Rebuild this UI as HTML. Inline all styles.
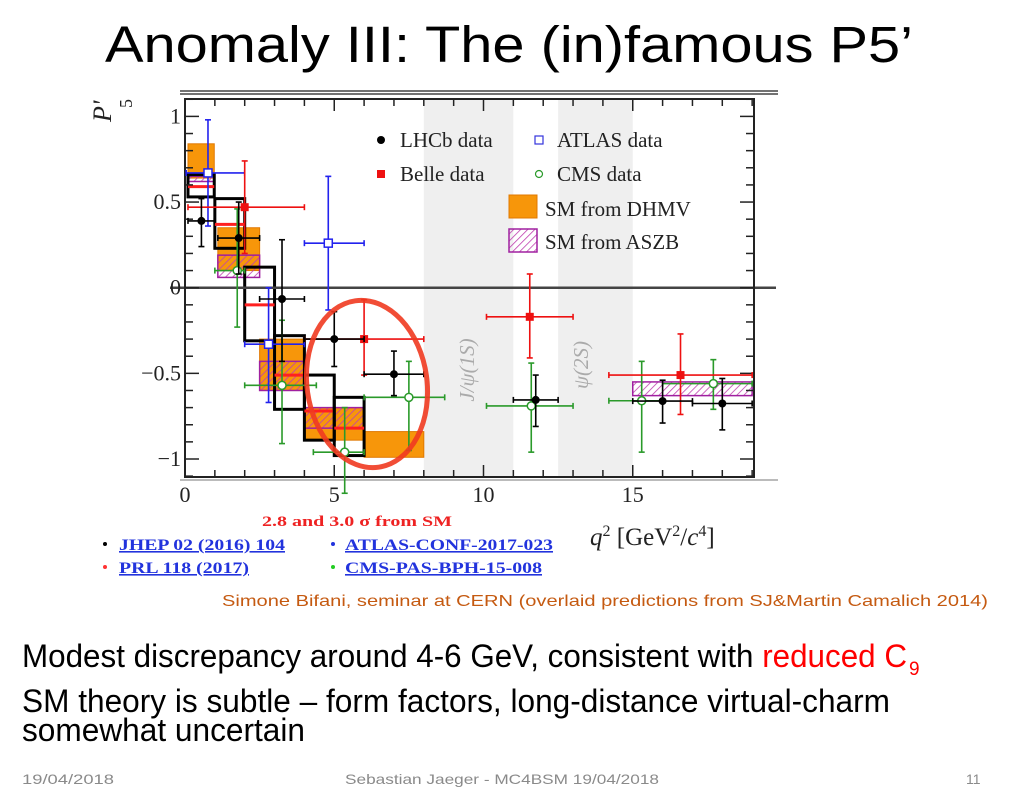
<!DOCTYPE html>
<html><head><meta charset="utf-8"><style>
html,body{margin:0;padding:0;background:#fff;}
svg{display:block}
</style></head><body>
<svg id="page" width="1032" height="810" viewBox="0 0 1032 810" xmlns="http://www.w3.org/2000/svg">
<defs>
<pattern id="hatch" patternUnits="userSpaceOnUse" width="5" height="5" patternTransform="rotate(45)">
<rect width="5" height="5" fill="rgba(255,255,255,0)"/>
<line x1="0" y1="0" x2="0" y2="5" stroke="#c040b0" stroke-width="1.6"/>
</pattern>
</defs>
<text x="105" y="62" font-family="Liberation Sans, sans-serif" font-size="51" textLength="808" lengthAdjust="spacingAndGlyphs">Anomaly III: The (in)famous P5’</text>
<g id="chart"></g>
<text x="262" y="526" font-family="Liberation Serif, serif" font-weight="bold" font-size="15" fill="#ee2222" textLength="190" lengthAdjust="spacingAndGlyphs">2.8 and 3.0 σ from SM</text>
<g font-family="Liberation Serif, serif" font-weight="bold" font-size="16" fill="#2233dd" text-decoration="underline">
<circle cx="105" cy="544" r="2" fill="#000"/><text x="119" y="550" textLength="166" lengthAdjust="spacingAndGlyphs">JHEP 02 (2016) 104</text>
<circle cx="105" cy="567" r="2" fill="#f33"/><text x="119" y="573" textLength="130" lengthAdjust="spacingAndGlyphs">PRL 118 (2017)</text>
<circle cx="333" cy="544" r="2" fill="#2233dd"/><text x="345" y="550" textLength="208" lengthAdjust="spacingAndGlyphs">ATLAS-CONF-2017-023</text>
<circle cx="333" cy="567" r="2" fill="#2c2"/><text x="345" y="573" textLength="197" lengthAdjust="spacingAndGlyphs">CMS-PAS-BPH-15-008</text>
</g>
<text x="222" y="606" font-family="Liberation Sans, sans-serif" font-size="16" fill="#c55a11" textLength="766" lengthAdjust="spacingAndGlyphs">Simone Bifani, seminar at CERN (overlaid predictions from SJ&amp;Martin Camalich 2014)</text>
<text x="22" y="667" font-family="Liberation Sans, sans-serif" font-size="32" textLength="885" lengthAdjust="spacingAndGlyphs">Modest discrepancy around 4-6 GeV, consistent with <tspan fill="#ff0000">reduced C</tspan></text>
<text x="909" y="675" font-family="Liberation Sans, sans-serif" font-size="19" fill="#ff0000">9</text>
<text x="22" y="712" font-family="Liberation Sans, sans-serif" font-size="32" textLength="868" lengthAdjust="spacingAndGlyphs">SM theory is subtle – form factors, long-distance virtual-charm</text>
<text x="22" y="741" font-family="Liberation Sans, sans-serif" font-size="32" textLength="283" lengthAdjust="spacingAndGlyphs">somewhat uncertain</text>
<g font-family="Liberation Sans, sans-serif" font-size="14" fill="#8a8a8a">
<text x="22" y="784" textLength="92" lengthAdjust="spacingAndGlyphs">19/04/2018</text>
<text x="345" y="784" textLength="314" lengthAdjust="spacingAndGlyphs">Sebastian Jaeger - MC4BSM 19/04/2018</text>
<text x="966" y="784">11</text>
</g>
</svg>
<script>
// ---- data ----
const lhcbX=[0.55,1.8,3.25,5,7,11.75,16,18];
const lhcbXlo=[0.1,1.1,2.5,4,6,11,15,17];
const lhcbXhi=[0.98,2.5,4,6,8,12.5,17,19];
const lhcbY=[0.39,0.29,-0.066,-0.30,-0.505,-0.655,-0.662,-0.676];
const lhcbYlo=[0.24,0.08,-0.43,-0.46,-0.63,-0.81,-0.79,-0.83];
const lhcbYhi=[0.52,0.50,0.28,-0.14,-0.37,-0.51,-0.54,-0.53];
const belleX=[2,6,11.55,16.6];
const belleXlo=[0.1,4,10.1,14.2];
const belleXhi=[4,8,13,19];
const belleY=[0.47,-0.30,-0.17,-0.51];
const belleYlo=[0.2,-0.51,-0.41,-0.74];
const belleYhi=[0.74,-0.07,0.08,-0.27];
const atlasX=[0.77,4.8,2.8];
const atlasXlo=[0.04,4,2];
const atlasXhi=[2,6,4];
const atlasY=[0.67,0.26,-0.33];
const atlasYlo=[0.36,-0.13,-0.67];
const atlasYhi=[0.98,0.65,0.0];
const cmsX=[1.75,3.25,5.35,7.5,11.6,15.3,17.7];
const cmsXlo=[1,2,4.3,6,10.1,14.2,16];
const cmsXhi=[2,4.4,6,8.7,13,16,19];
const cmsY=[0.1,-0.57,-0.96,-0.64,-0.69,-0.66,-0.56];
const cmsYlo=[-0.23,-0.91,-1.2,-0.95,-0.96,-0.96,-0.71];
const cmsYhi=[0.46,-0.19,-0.7,-0.43,-0.44,-0.43,-0.42];
const dhmvLo=[0.1,1.1,2.5,4,6];
const dhmvHi=[0.98,2.5,4,6,8];
const dhmvBot=[0.64,0.10,-0.60,-0.89,-0.99];
const dhmvTop=[0.84,0.35,-0.30,-0.70,-0.84];
const aszbLo=[0.1,1.1,2.5,4,15];
const aszbHi=[0.98,2.5,4,6,19];
const aszbBot=[0.62,0.06,-0.60,-0.82,-0.63];
const aszbTop=[0.65,0.19,-0.43,-0.70,-0.55];
const sjLo=[0.1,1,2,3,4,5];
const sjHi=[0.98,2,3,4,5,6];
const sjBot=[0.53,0.23,-0.31,-0.71,-0.89,-0.98];
const sjTop=[0.66,0.52,0.12,-0.28,-0.51,-0.64];
const sjCentral=[0.59,0.37,-0.10,-0.51,-0.72,-0.82];
const xTicks=[0,5,10,15];
const yTicks=[1,0.5,0,-0.5,-1];
const yTickLabels=['1','0.5','0','\u22120.5','\u22121'];
const bandsLo=[8,12.5];
const bandsHi=[11,15];

// ---- axes ----
const X=v=>185+29.85*v;
const Y=v=>287.7-171.3*v;
const NS='http://www.w3.org/2000/svg';
const g=document.getElementById('chart');
function mk(tag,attrs,parent){const e=document.createElementNS(NS,tag);for(const k in attrs)e.setAttribute(k,attrs[k]);(parent||g).appendChild(e);return e;}

for(let i=0;i<bandsLo.length;i++){
 const r=mk('rect',{x:X(bandsLo[i]),y:99,width:X(bandsHi[i])-X(bandsLo[i]),height:378,fill:'#efefef'});
 
 
}
for(let i=0;i<dhmvLo.length;i++){
 const r=mk('rect',{x:X(dhmvLo[i]),y:Y(dhmvTop[i]),width:X(dhmvHi[i])-X(dhmvLo[i]),height:Y(dhmvBot[i])-Y(dhmvTop[i]),fill:'#f7960a',stroke:'#e07800','stroke-width':1});
 
 
}
for(let i=0;i<aszbLo.length;i++){
 const r=mk('rect',{x:X(aszbLo[i]),y:Y(aszbTop[i]),width:X(aszbHi[i])-X(aszbLo[i]),height:Y(aszbBot[i])-Y(aszbTop[i]),fill:'url(#hatch)',stroke:'#a020a0','stroke-width':1.5});
 
 
}
for(let i=0;i<sjLo.length;i++){
 const r=mk('rect',{x:X(sjLo[i]),y:Y(sjTop[i]),width:X(sjHi[i])-X(sjLo[i]),height:Y(sjBot[i])-Y(sjTop[i]),fill:'none',stroke:'#000','stroke-width':3});
 
 
 const l=mk('line',{x1:X(sjLo[i]),x2:X(sjHi[i]),y1:Y(sjCentral[i]),y2:Y(sjCentral[i]),stroke:'#ff2020','stroke-width':3});
 
 
}
mk('line',{x1:170,x2:776,y1:Y(0),y2:Y(0),stroke:'#444','stroke-width':2.5});
mk('line',{x1:180,x2:778,y1:91,y2:91,stroke:'#444','stroke-width':1.5});
mk('line',{x1:180,x2:778,y1:94,y2:94,stroke:'#444','stroke-width':1.5});
mk('line',{x1:180,x2:778,y1:480,y2:480,stroke:'#bbb','stroke-width':2});
mk('rect',{x:185,y:99,width:569,height:378,fill:'none',stroke:'#222','stroke-width':2});
for(let v=0;v<=19;v++){
 const big=v%5===0, L=big?12:7;
 mk('line',{x1:X(v),x2:X(v),y1:477,y2:477-L,stroke:'#222','stroke-width':1.5});
 mk('line',{x1:X(v),x2:X(v),y1:99,y2:99+L,stroke:'#222','stroke-width':1.5});
}
for(let k=-11;k<=11;k++){
 const v=k/10, big=k%5===0, L=big?14:8;
 mk('line',{x1:185,x2:185+L,y1:Y(v),y2:Y(v),stroke:'#222','stroke-width':1.5});
 mk('line',{x1:754,x2:754-L,y1:Y(v),y2:Y(v),stroke:'#222','stroke-width':1.5});
}
xTicks.forEach(v=>{const t=mk('text',{x:X(v),y:502,'text-anchor':'middle','font-family':'Liberation Serif, serif','font-size':22,fill:'#222'});t.textContent=v;
 
 });
yTicks.forEach((v,i)=>{const t=mk('text',{x:181,y:Y(v)+7,'text-anchor':'end','font-family':'Liberation Serif, serif','font-size':22,fill:'#222'});t.textContent=yTickLabels[i];
 
 });
[['J/\u03c8(1S)',474,370],['\u03c8(2S)',588,365]].forEach(a=>{const t=mk('text',{x:a[1],y:a[2],transform:`rotate(-90 ${a[1]} ${a[2]})`,'text-anchor':'middle','font-family':'Liberation Serif, serif','font-size':21,fill:'#aaa','font-style':'italic'});t.textContent=a[0];
 
 });
function series(xs,xl,xh,ys,yl,yh,color,name,marker){
 for(let i=0;i<xs.length;i++){
  const grp=mk('g',{});
  
  
  const cx=X(xs[i]),cy=Y(ys[i]);
  mk('line',{x1:X(xl[i]),x2:X(xh[i]),y1:cy,y2:cy,stroke:color,'stroke-width':1.6},grp);
  mk('line',{x1:cx,x2:cx,y1:Y(yl[i]),y2:Y(yh[i]),stroke:color,'stroke-width':1.6},grp);
  [X(xl[i]),X(xh[i])].forEach(x=>mk('line',{x1:x,x2:x,y1:cy-3,y2:cy+3,stroke:color,'stroke-width':1.6},grp));
  [Y(yl[i]),Y(yh[i])].forEach(y=>mk('line',{x1:cx-3,x2:cx+3,y1:y,y2:y,stroke:color,'stroke-width':1.6},grp));
  if(marker==='dot')mk('circle',{cx,cy,r:4,fill:color},grp);
  if(marker==='sq')mk('rect',{x:cx-4,y:cy-4,width:8,height:8,fill:color},grp);
  if(marker==='osq')mk('rect',{x:cx-4,y:cy-4,width:8,height:8,fill:'#fff',stroke:color,'stroke-width':1.5},grp);
  if(marker==='oc')mk('circle',{cx,cy,r:4,fill:'#fff',stroke:color,'stroke-width':1.5},grp);
 }
}
series(cmsX,cmsXlo,cmsXhi,cmsY,cmsYlo,cmsYhi,'#2a9a2a','cms','oc');
series(atlasX,atlasXlo,atlasXhi,atlasY,atlasYlo,atlasYhi,'#2222ee','atlas','osq');
series(belleX,belleXlo,belleXhi,belleY,belleYlo,belleYhi,'#ee1111','belle','sq');
series(lhcbX,lhcbXlo,lhcbXhi,lhcbY,lhcbYlo,lhcbYhi,'#000','lhcb','dot');
const el=mk('ellipse',{cx:367,cy:384,rx:60,ry:84,fill:'none',stroke:'#f03a20','stroke-width':5,transform:'rotate(-8 367 384)',opacity:0.9});


const lg=mk('g',{'font-family':'Liberation Serif, serif','font-size':21,fill:'#222'});


mk('circle',{cx:381,cy:140,r:4,fill:'#000'},lg);
mk('rect',{x:535,y:136,width:8,height:8,fill:'#fff',stroke:'#33d','stroke-width':1.2},lg);
mk('rect',{x:377,y:170,width:8,height:8,fill:'#ee1111'},lg);
mk('circle',{cx:539,cy:174,r:3.5,fill:'#fff',stroke:'#2a9a2a','stroke-width':1.2},lg);
mk('rect',{x:509,y:195,width:28,height:23,fill:'#f7960a',stroke:'#e07800'},lg);
mk('rect',{x:509,y:229,width:28,height:23,fill:'url(#hatch)',stroke:'#a020a0','stroke-width':1.5},lg);
[['LHCb data',400,147],['ATLAS data',557,147],['Belle data',400,181],['CMS data',557,181],['SM from DHMV',545,216],['SM from ASZB',545,249]].forEach(a=>{const t=mk('text',{x:a[1],y:a[2]},lg);t.textContent=a[0];
 
 });
const xt=mk('text',{x:590,y:545,'font-family':'Liberation Serif, serif','font-size':25,fill:'#222'});


xt.innerHTML='<tspan font-style="italic">q</tspan><tspan dy="-9" font-size="16">2</tspan><tspan dy="9"> [GeV</tspan><tspan dy="-9" font-size="16">2</tspan><tspan dy="9">/</tspan><tspan font-style="italic">c</tspan><tspan dy="-9" font-size="16">4</tspan><tspan dy="9">]</tspan>';
const yt=mk('text',{x:111,y:122,transform:'rotate(-90 111 122)','font-family':'Liberation Serif, serif','font-size':26,fill:'#222','font-style':'italic'});


yt.textContent="P'";
const y5=mk('text',{x:132,y:108,transform:'rotate(-90 132 108)','font-family':'Liberation Serif, serif','font-size':18,fill:'#222'});


y5.textContent='5';
</script>
</body></html>
